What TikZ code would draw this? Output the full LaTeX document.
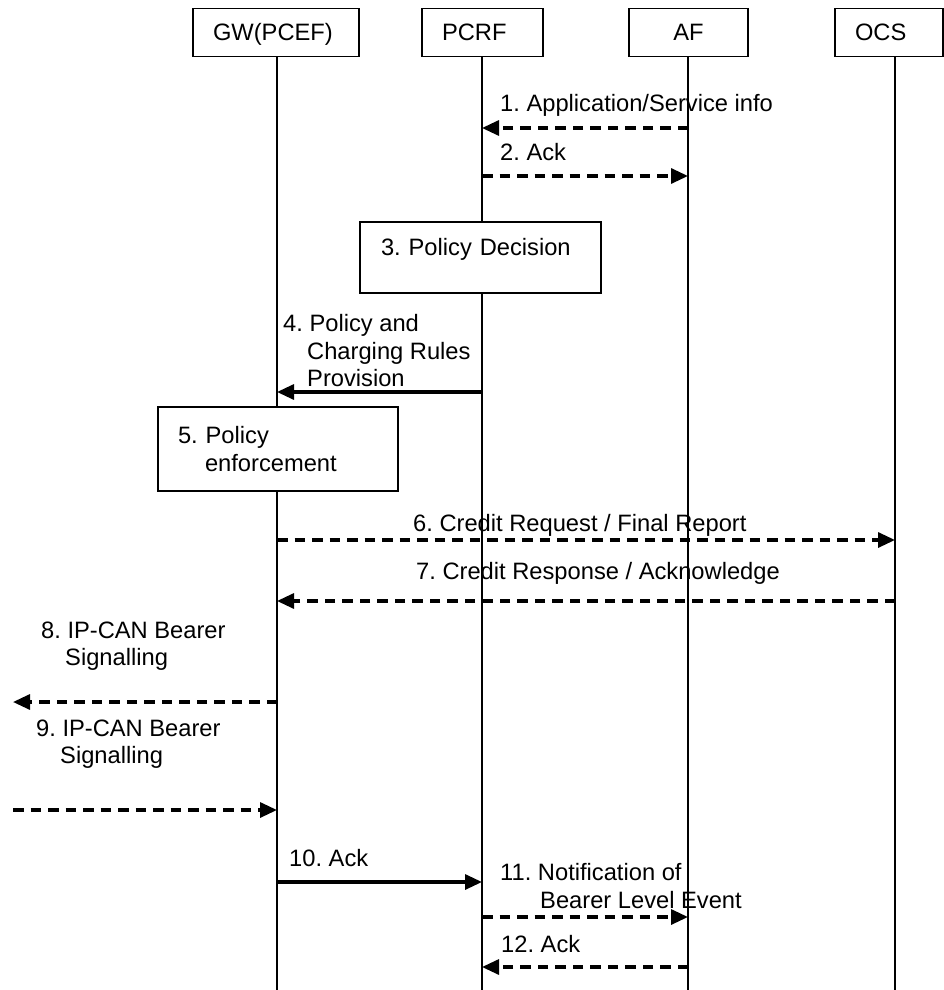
\documentclass[tikz,border=0pt]{standalone}
\usepackage{fontspec}
\setmainfont{Liberation Sans}
\usetikzlibrary{arrows.meta}
\frenchspacing

\begin{document}
\begin{tikzpicture}
    [x=1pt,y=-1pt,
every node/.style={font=\fontsize{23.7}{27.5}\selectfont},
entity/.style={draw,line width=1.3pt,minimum height=48pt,inner xsep=20pt,inner ysep=0pt,text height=17pt,text depth=0pt,align=left},
actbox/.style={draw,fill=white,line width=1.3pt,inner ysep=0pt,align=left},
life/.style={line width=1.3pt},
msg/.style={line width=3.2pt,-{Triangle[length=17pt,width=15pt]}},
dmsg/.style={msg,dash pattern=on 10.5pt off 7pt},
lbl/.style={anchor=north west,inner sep=0pt,align=left}
]
  \useasboundingbox (0,0) rectangle (944,990);

  \node[entity,text width=126pt] (gw) at (276,32.5) {GW(PCEF)};
  \node[entity,text width=81pt] (pcrf) at (482.5,32.5) {PCRF};
  \node[entity,text width=79pt,align=center] (af) at (688.5,32.5) {AF};
  \node[entity,text width=68pt] (ocs) at (889,32.5) {OCS};

  \coordinate (ueEnd) at (13,990);
  \coordinate (gwEnd) at (277,990);
  \coordinate (pcrfEnd) at (482,990);
  \coordinate (afEnd) at (688,990);
  \coordinate (ocsEnd) at (895,990);

  \draw[life] (gwEnd |- gw.south) -- (gwEnd);
  \draw[life] (pcrfEnd |- pcrf.south) -- (pcrfEnd);
  \draw[life] (afEnd |- af.south) -- (afEnd);
  \draw[life] (ocsEnd |- ocs.south) -- (ocsEnd);

  \node[actbox,minimum width=241pt,minimum height=71pt,text width=199pt,inner xsep=21pt,text height=17pt,text depth=21pt] (decide) at (480.5,257.5) {3. Policy Decision};
  \node[actbox,minimum width=240pt,minimum height=84pt,text width=200pt,inner xsep=20pt] (enforce) at (278,449) {5. Policy\\\hspace*{27pt}enforcement};

  \coordinate (m1) at (0,128);
  \coordinate (m2) at (0,176);
  \coordinate (m4) at (0,392);
  \coordinate (m6) at (0,540);
  \coordinate (m7) at (0,601);
  \coordinate (m8) at (0,702);
  \coordinate (m9) at (0,810);
  \coordinate (m10) at (0,882);
  \coordinate (m11) at (0,917);
  \coordinate (m12) at (0,967);

  \draw[dmsg] (afEnd |- m1) -- (pcrfEnd |- m1);
  \draw[dmsg] (pcrfEnd |- m2) -- (afEnd |- m2);
  \draw[msg] (pcrfEnd |- m4) -- (gwEnd |- m4);
  \draw[dmsg] (gwEnd |- m6) -- (ocsEnd |- m6);
  \draw[dmsg] (ocsEnd |- m7) -- (gwEnd |- m7);
  \draw[dmsg] (gwEnd |- m8) -- (ueEnd |- m8);
  \draw[dmsg] (ueEnd |- m9) -- (gwEnd |- m9);
  \draw[msg] (gwEnd |- m10) -- (pcrfEnd |- m10);
  \draw[dmsg] (pcrfEnd |- m11) -- (afEnd |- m11);
  \draw[dmsg] (afEnd |- m12) -- (pcrfEnd |- m12);

  \node[lbl] (l1) at (500,94.5) {1. Application/Service info};
  \node[lbl] (l2) at (500,143.5) {2. Ack};
  \node[lbl] (l4) at (283,314.5) {4. Policy and\\\hspace*{24pt}Charging Rules\\\hspace*{24pt}Provision};
  \node[lbl] (l6) at (413,514.5) {6. Credit Request / Final Report};
  \node[lbl] (l7) at (416,562.5) {7. Credit Response / Acknowledge};
  \node[lbl] (l8) at (41,621.5) {8. IP-CAN Bearer\\\hspace*{24pt}Signalling};
  \node[lbl] (l9) at (36,719.5) {9. IP-CAN Bearer\\\hspace*{24pt}Signalling};
  \node[lbl] (l10) at (289,849.5) {10. Ack};
  \node[lbl] (l11) at (500,863.5) {11. Notification of\\\hspace*{40pt}Bearer Level Event};
  \node[lbl] (l12) at (501,935.5) {12. Ack};
\end{tikzpicture}
\end{document}
